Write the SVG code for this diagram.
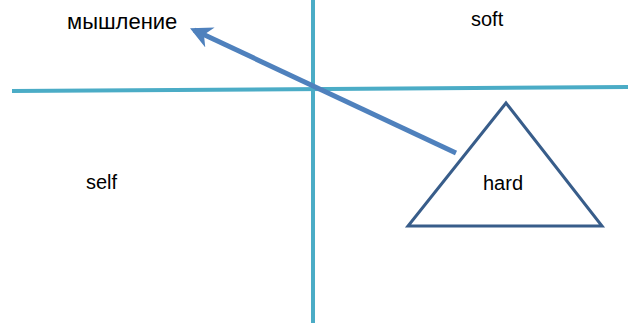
<svg xmlns="http://www.w3.org/2000/svg" width="628" height="323" viewBox="0 0 628 323">
<defs>
<style>
.axis{stroke:#4bacc6;stroke-width:4;fill:none}
.lbl{font-family:"Liberation Sans",Arial,sans-serif;font-size:20px;fill:#000}
</style>
<marker id="ah" viewBox="0 0 10 10" refX="8" refY="5" markerWidth="4.4" markerHeight="4.4" orient="auto" markerUnits="strokeWidth">
<path d="M0,0 L10,5 L0,10 L3,5 z" fill="#4f81bd"/>
</marker>
</defs>
<rect width="628" height="323" fill="#fff"/>
<g id="connectors">
<line class="axis" x1="12" y1="91" x2="628" y2="87"/>
<line class="axis" x1="313" y1="0" x2="313" y2="323"/>
<line x1="456" y1="153" x2="194" y2="30" stroke="#4f81bd" stroke-width="5" marker-end="url(#ah)"/>
</g>
<g id="thinking"><text class="lbl" x="67" y="29" style="font-size:22px">мышление</text></g>
<g id="soft"><text class="lbl" x="471" y="26">soft</text></g>
<g id="self"><text class="lbl" x="86" y="189">self</text></g>
<g id="hard">
<polygon points="506,103 408,226 602,226" fill="none" stroke="#385d8a" stroke-width="3" stroke-linejoin="miter"/>
<text class="lbl" x="483" y="190">hard</text>
</g>
</svg>
